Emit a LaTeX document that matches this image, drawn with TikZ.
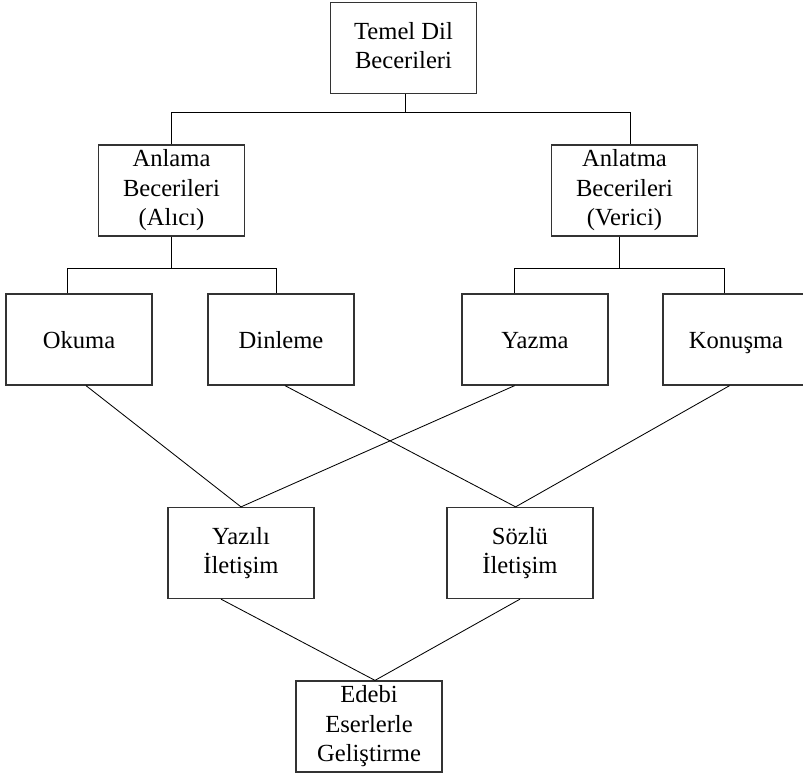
\documentclass[tikz,border=0pt]{standalone}
\usepackage{fontspec}
\setmainfont{Liberation Serif}
\begin{document}
\begin{tikzpicture}[
	kutu/.style={draw=black!80,line width=0.9pt,minimum width=3.65cm,minimum height=2.275cm,align=center,inner sep=2pt,font=\fontsize{17.5}{20.8}\selectfont,execute at begin node=\rule{0pt}{17pt},execute at end node=\rule[-4pt]{0pt}{4pt}},
	bag/.style={line width=0.6pt}]
	\useasboundingbox (0,0) rectangle (20.075,-19.4);

	% kutular
	\node[kutu] (temel) at (10.0875,-1.2) {Temel Dil\\Becerileri};
	\node[kutu] (anlama) at (4.2875,-4.7625) {Anlama\\Becerileri\\(Alıcı)};
	\node[kutu] (anlatma) at (15.6125,-4.7625) {Anlatma\\Becerileri\\(Verici)};
	\node[kutu] (okuma) at (1.975,-8.4875) {Okuma};
	\node[kutu] (dinleme) at (7.025,-8.4875) {Dinleme};
	\node[kutu] (yazma) at (13.375,-8.4875) {Yazma};
	\node[kutu] (konusma) at (18.4,-8.4875) {Konuşma};
	\node[kutu] (yazili) at (6.025,-13.825) {Yazılı\\İletişim};
	\node[kutu] (sozlu) at (13.0,-13.825) {Sözlü\\İletişim};
	\node[kutu] (edebi) at (9.225,-18.1625) {Edebi\\Eserlerle\\Geliştirme};

	% ağaç bağları
	\coordinate (ust) at (0,-2.8125);
	\coordinate (alt) at (0,-6.7);
	\coordinate (t1) at ([xshift=0.06cm]temel.south);
	\coordinate (a1) at ([xshift=0.14cm]anlatma.north);
	\coordinate (a2) at ([xshift=-0.12cm]anlatma.south);
	\coordinate (o1) at ([xshift=-0.285cm]okuma.north);
	\coordinate (d1) at ([xshift=-0.11cm]dinleme.north);
	\coordinate (y1) at ([xshift=-0.51cm]yazma.north);
	\coordinate (k1) at ([xshift=-0.3cm]konusma.north);
	\draw[bag] (t1) -- (t1 |- ust);
	\draw[bag] (anlama.north) |- (a1 |- ust) -- (a1);
	\draw[bag] (anlama.south) -- (anlama.south |- alt);
	\draw[bag] (o1) |- (d1 |- alt) -- (d1);
	\draw[bag] (a2) -- (a2 |- alt);
	\draw[bag] (y1) |- (k1 |- alt) -- (k1);

	% çapraz bağlar
	\draw[bag] ([xshift=0.175cm]okuma.south) -- (yazili.north);
	\draw[bag] ([xshift=-0.51cm]yazma.south) -- (yazili.north);
	\draw[bag] ([xshift=0.1cm]dinleme.south) -- ([xshift=-0.11cm]sozlu.north);
	\draw[bag] ([xshift=-0.16cm]konusma.south) -- ([xshift=-0.11cm]sozlu.north);
	\draw[bag] ([xshift=-0.5cm]yazili.south) -- ([xshift=0.15cm]edebi.north);
	\draw[bag] (sozlu.south) -- ([xshift=0.15cm]edebi.north);
\end{tikzpicture}
\end{document}
